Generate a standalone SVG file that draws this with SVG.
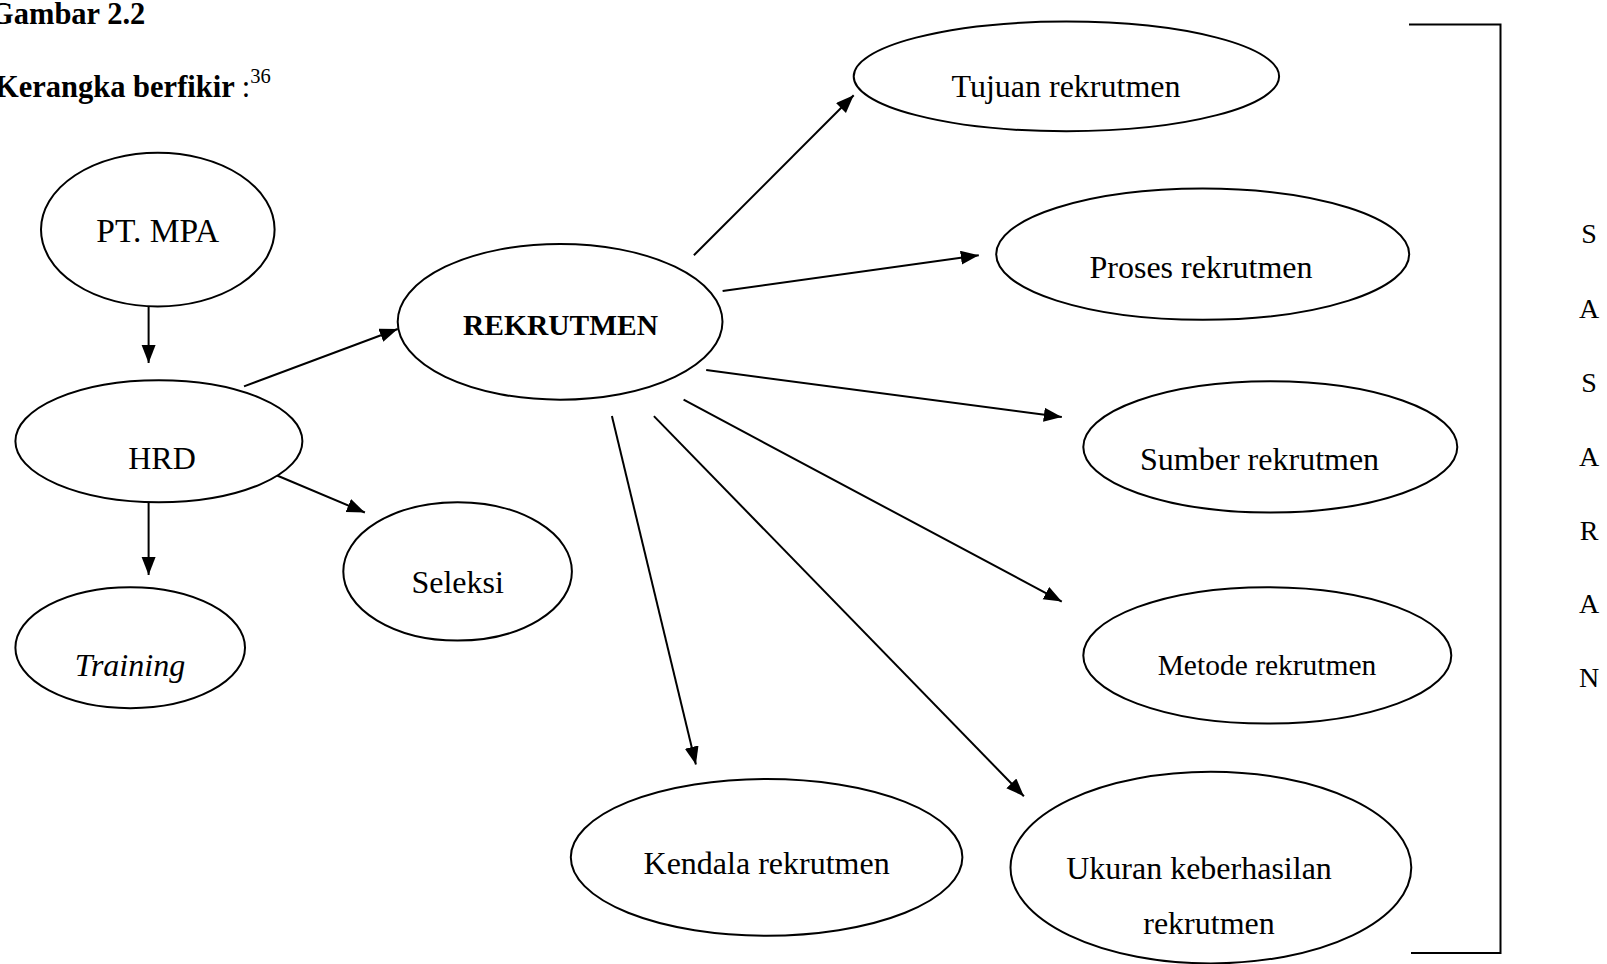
<svg xmlns="http://www.w3.org/2000/svg" width="1607" height="964" viewBox="0 0 1607 964">
<style>
.n{fill:#fff;stroke:#000;stroke-width:2}
.t{font-family:"Liberation Serif","Times New Roman",serif;font-size:32px;fill:#000;text-anchor:middle}
.h{font-family:"Liberation Serif","Times New Roman",serif;font-weight:bold;font-size:30.5px;fill:#000}
.c{stroke:#000;stroke-width:2;fill:none;marker-end:url(#ah)}
.s{font-family:"Liberation Serif","Times New Roman",serif;font-size:28px;fill:#000;text-anchor:middle}
</style>
<defs>
<marker id="ah" markerUnits="userSpaceOnUse" markerWidth="19" markerHeight="15" refX="18" refY="7" orient="auto">
<path d="M0,0 L18,7 L0,14 z" fill="#000"/>
</marker>
</defs>
<rect width="1607" height="964" fill="#fff"/>
<g id="heading">
<text class="h" x="-10" y="24">Gambar 2.2</text>
<text class="h" x="-5" y="97">Kerangka berfikir <tspan style="font-weight:normal">:</tspan><tspan style="font-weight:normal;font-size:20.5px" dy="-14">36</tspan></text>
</g>
<g id="connectors">
<line class="c" x1="148.6" y1="292" x2="148.6" y2="363"/>
<line class="c" x1="148.6" y1="502" x2="148.6" y2="575"/>
<line class="c" x1="244" y1="386.4" x2="397.7" y2="329"/>
<line class="c" x1="274.7" y1="474.5" x2="364.9" y2="512.5"/>
<line class="c" x1="693.9" y1="255.2" x2="853.7" y2="95.3"/>
<line class="c" x1="722.6" y1="291" x2="978.8" y2="255.2"/>
<line class="c" x1="706.2" y1="370" x2="1061.8" y2="417.1"/>
<line class="c" x1="683.6" y1="399.7" x2="1061.8" y2="601.6"/>
<line class="c" x1="653.9" y1="416.1" x2="1023.9" y2="796.3"/>
<line class="c" x1="611.9" y1="416.1" x2="695.9" y2="764.6"/>
</g>
<g id="pt-mpa">
<ellipse class="n" cx="157.8" cy="229.6" rx="116.8" ry="76.9"/>
<text class="t" x="157.8" y="242" style="font-size:33.5px">PT. MPA</text>
</g>
<g id="hrd">
<ellipse class="n" cx="158.9" cy="441.2" rx="143.5" ry="61"/>
<text class="t" x="162" y="469">HRD</text>
</g>
<g id="training">
<ellipse class="n" cx="130.2" cy="647.7" rx="114.8" ry="60.5"/>
<text class="t" x="130" y="676" style="font-style:italic">Training</text>
</g>
<g id="seleksi">
<ellipse class="n" cx="457.6" cy="571.4" rx="114.3" ry="69.2"/>
<text class="t" x="457.6" y="593">Seleksi</text>
</g>
<g id="rekrutmen">
<ellipse class="n" cx="560.1" cy="321.8" rx="162.4" ry="77.9"/>
<text class="t" x="560.6" y="335" style="font-weight:bold;font-size:29.5px">REKRUTMEN</text>
</g>
<g id="tujuan">
<ellipse class="n" cx="1066.4" cy="76.4" rx="212.7" ry="54.8"/>
<text class="t" x="1066" y="97">Tujuan rekrutmen</text>
</g>
<g id="proses">
<ellipse class="n" cx="1202.7" cy="254.2" rx="206.5" ry="65.6"/>
<text class="t" x="1201" y="278">Proses rekrutmen</text>
</g>
<g id="sumber">
<ellipse class="n" cx="1270.3" cy="446.9" rx="187" ry="65.6"/>
<text class="t" x="1259.6" y="470">Sumber rekrutmen</text>
</g>
<g id="metode">
<ellipse class="n" cx="1267.3" cy="655.4" rx="184" ry="68.2"/>
<text class="t" x="1267" y="675" style="font-size:29.5px">Metode rekrutmen</text>
</g>
<g id="kendala">
<ellipse class="n" cx="766.6" cy="857.3" rx="195.8" ry="78.4"/>
<text class="t" x="766.6" y="874">Kendala rekrutmen</text>
</g>
<g id="ukuran">
<ellipse class="n" cx="1210.9" cy="867.6" rx="200.4" ry="95.8"/>
<text class="t" x="1199" y="879">Ukuran keberhasilan</text>
<text class="t" x="1209" y="934">rekrutmen</text>
</g>
<g id="sasaran">
<path d="M1409,24.6 H1500.5 V953 H1411" fill="none" stroke="#000" stroke-width="2"/>
<text class="s" x="1589" y="243">S</text>
<text class="s" x="1589" y="318">A</text>
<text class="s" x="1589" y="392">S</text>
<text class="s" x="1589" y="466">A</text>
<text class="s" x="1589" y="540">R</text>
<text class="s" x="1589" y="613">A</text>
<text class="s" x="1589" y="687">N</text>
</g>
</svg>
